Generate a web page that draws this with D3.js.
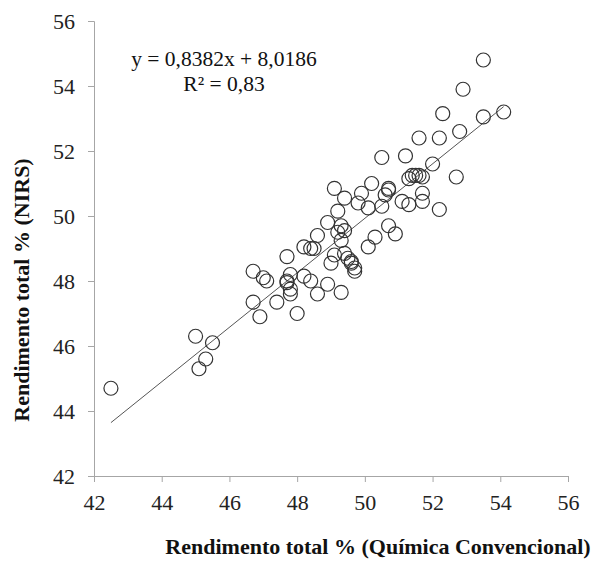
<!DOCTYPE html>
<html><head><meta charset="utf-8">
<script src="https://cdn.jsdelivr.net/npm/d3@7"></script>
<style>body{margin:0;background:#fff}svg{display:block}
svg text{font-family:"Liberation Serif","DejaVu Serif","Times New Roman",serif !important;}</style>
</head><body>
<script>
const xValues = [42.5,45.0,45.1,45.3,45.5,46.7,46.7,46.9,47.0,47.1,47.4,47.7,47.7,47.7,47.8,47.8,47.8,48.0,48.2,48.2,48.4,48.4,48.5,48.6,48.6,48.9,48.9,49.0,49.1,49.1,49.2,49.2,49.3,49.3,49.3,49.4,49.4,49.4,49.5,49.6,49.6,49.7,49.7,49.8,49.9,50.1,50.1,50.2,50.3,50.5,50.5,50.6,50.7,50.7,50.7,50.9,51.1,51.2,51.3,51.3,51.4,51.5,51.6,51.6,51.7,51.7,51.7,52.0,52.2,52.2,52.3,52.7,52.8,52.9,53.5,53.5,54.1];
const yValues = [44.7,46.3,45.3,45.6,46.1,47.35,48.3,46.9,48.1,48.0,47.35,48.75,48.0,47.95,47.6,47.75,48.2,47.0,49.05,48.15,49.0,48.0,49.0,49.4,47.6,49.8,47.9,48.55,48.8,50.85,50.15,49.5,49.25,49.7,47.65,49.55,50.55,48.85,48.7,48.6,48.55,48.3,48.4,50.4,50.7,49.05,50.25,51.0,49.35,50.3,51.8,50.65,50.8,50.85,49.7,49.45,50.45,51.85,50.35,51.15,51.25,51.25,51.25,52.4,50.7,50.45,51.2,51.6,52.4,50.2,53.15,51.2,52.6,53.9,54.8,53.05,53.2];
const xTicks = [42,44,46,48,50,52,54,56];
const yTicks = [42,44,46,48,50,52,54,56];
const slope = 0.8382, intercept = 8.0186;
const equationText = "y = 0,8382x + 8,0186";
const r2Text = "R² = 0,83";
const xTitle = "Rendimento total % (Química Convencional)";
const yTitle = "Rendimento total % (NIRS)";

const W = 596, H = 564;
const svg = d3.select("body").append("svg").attr("width", W).attr("height", H);
const x = d3.scaleLinear().domain([42,56]).range([94,568]);
const y = d3.scaleLinear().domain([42,56]).range([476,21]);

const xa = svg.append("g").attr("transform","translate(0,476)")
  .call(d3.axisBottom(x).tickValues(xTicks).tickFormat(d3.format("d")).tickSizeOuter(0).tickSize(6).tickPadding(12));
const ya = svg.append("g").attr("transform","translate(94,0)")
  .call(d3.axisLeft(y).tickValues(yTicks).tickFormat(d3.format("d")).tickSizeOuter(0).tickSize(6).tickPadding(13));
[xa,ya].forEach(a=>{
  a.attr("font-family",null).attr("font-size",null);
  a.select(".domain").attr("stroke","#a6a6a6").attr("stroke-width",1);
  a.selectAll(".tick line").attr("stroke","#a6a6a6");
  a.selectAll(".tick text").attr("font-size",22).attr("fill","#222");
});

const xs = d3.extent(xValues);
svg.append("line")
  .attr("x1", x(xs[0])).attr("y1", y(slope*xs[0]+intercept))
  .attr("x2", x(xs[1])).attr("y2", y(slope*xs[1]+intercept))
  .attr("stroke","#555").attr("stroke-width",1);

svg.append("g").selectAll("circle").data(xValues.map((v,i)=>[v,yValues[i]])).join("circle")
  .attr("cx", d=>x(d[0])).attr("cy", d=>y(d[1])).attr("r", 7)
  .attr("fill","none").attr("stroke","#333").attr("stroke-width",1.2);

svg.append("text").attr("x",224).attr("y",66).attr("text-anchor","middle")
  .attr("font-size",21.5).attr("fill","#111").text(equationText);
svg.append("text").attr("x",224).attr("y",91).attr("text-anchor","middle")
  .attr("font-size",21.5).attr("fill","#111").text(r2Text);

svg.append("text").attr("x",378).attr("y",554).attr("text-anchor","middle")
  .attr("font-size",22).attr("font-weight","bold").attr("fill","#111").text(xTitle);
svg.append("text").attr("transform","translate(29,290) rotate(-90)").attr("text-anchor","middle")
  .attr("font-size",22).attr("font-weight","bold").attr("fill","#111").text(yTitle);
</script>
</body></html>
